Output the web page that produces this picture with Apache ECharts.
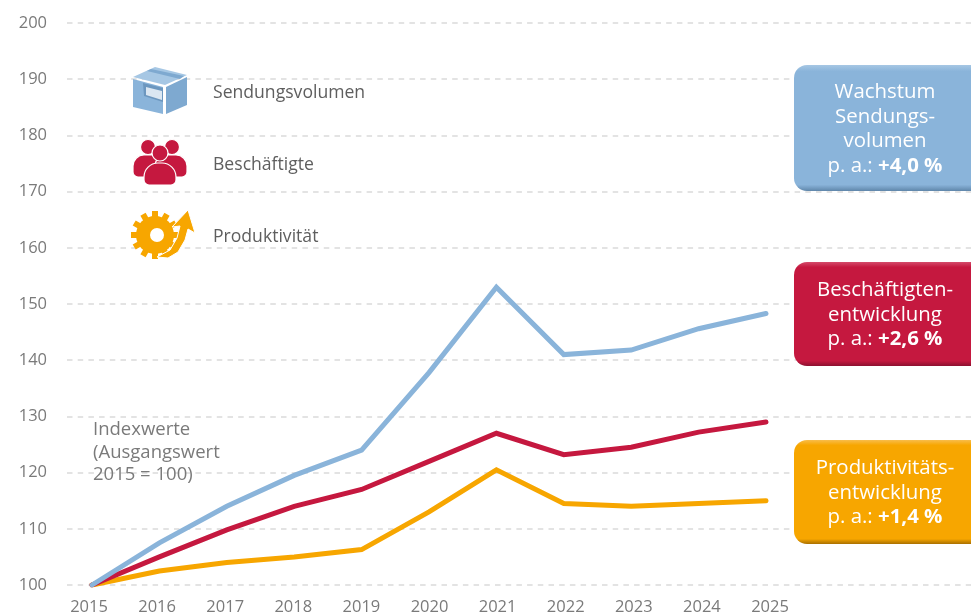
<!DOCTYPE html>
<html>
<head>
<meta charset="utf-8">
<style>
  html, body { margin: 0; padding: 0; background: #fff; overflow: hidden; }
  #chart { width: 971px; height: 616px; }
</style>
<script src="https://cdn.jsdelivr.net/npm/echarts@6/dist/echarts.min.js"></script>
</head>
<body>
<div id="chart"></div>
<script>
const years = ['2015', '2016', '2017', '2018', '2019', '2020', '2021', '2022', '2023', '2024', '2025']
const sendungsvolumen = [100, 107.5, 114, 119.5, 124, 137.8, 153, 141, 141.8, 145.6, 148.3]
const beschaeftigte = [100, 105, 109.8, 114, 117, 122, 127, 123.2, 124.5, 127.2, 129]
const produktivitaet = [100, 102.5, 104, 105, 106.3, 113, 120.5, 114.5, 114, 114.5, 115]

const BLUE = '#8ab4da'
const RED = '#c5183f'
const ORANGE = '#f7a600'
const GREY = '#7a7a7a'
const FONT = '"Open Sans"'

const TOP = 23
const BOTTOM = 616 - 585

const chart = echarts.init(document.getElementById('chart'))

function legendText(text, y) {
  return { type: 'text', x: 213, y, style: { text, fill: '#5e5e5e', font: `17.6px ${FONT}`, verticalAlign: 'middle' } }
}

function growthBox(y, h, color, light, dark, lines, rate) {
  const lineH = 24.5
  const total = lines.length + 1
  const startY = y + 1 + h / 2 - ((total - 1) * lineH) / 2
  const text = (t, i) => ({
    type: 'text',
    x: 885,
    y: startY + i * lineH,
    style: { text: t, fill: '#fff', font: `20.4px ${FONT}`, align: 'center', verticalAlign: 'middle' },
  })
  return [
    {
      type: 'rect',
      shape: { x: 794, y, width: 190, height: h, r: 13 },
      style: {
        fill: new echarts.graphic.LinearGradient(0, 0, 0, 1, [
          { offset: 0, color: light },
          { offset: 0.05, color },
          { offset: 0.95, color },
          { offset: 1, color: dark },
        ]),
      },
    },
    ...lines.map(text),
    {
      type: 'text',
      x: 885,
      y: startY + lines.length * lineH,
      style: {
        text: `{a|p. a.: }{b|${rate}}`,
        align: 'center',
        verticalAlign: 'middle',
        rich: {
          a: { fill: '#fff', font: `20.4px ${FONT}` },
          b: { fill: '#fff', font: `bold 20.4px ${FONT}` },
        },
      },
    },
  ]
}

function boxIcon() {
  return [
    { type: 'polygon', shape: { points: [[133, 77], [155, 67], [187, 75], [165, 85]] }, style: { fill: '#a6c7e4' } },
    { type: 'polygon', shape: { points: [[147, 71], [151, 69], [184, 76], [180, 79]] }, style: { fill: '#7ea9d0' } },
    { type: 'polygon', shape: { points: [[133, 79], [163, 87], [163, 114], [133, 107]] }, style: { fill: BLUE } },
    { type: 'polygon', shape: { points: [[166, 87], [187, 77], [187, 105], [166, 114]] }, style: { fill: '#7ea9d0' } },
    { type: 'polygon', shape: { points: [[143, 83], [163, 88], [163, 102], [144, 96]] }, style: { fill: '#6c97bf' } },
    { type: 'polygon', shape: { points: [[146, 87], [162, 91], [162, 100], [146, 95]] }, style: { fill: '#dbe7f2' } },
  ]
}

function peopleIcon() {
  const person = (cx, cy, r, x, y, w, h, br) => [
    { type: 'circle', shape: { cx, cy, r }, style: { fill: RED, stroke: '#fff', lineWidth: 1.2 } },
    { type: 'rect', shape: { x, y, width: w, height: h, r: [br, br, 5, 5] }, style: { fill: RED, stroke: '#fff', lineWidth: 1.2 } },
  ]
  return [
    ...person(148, 147, 7.5, 133, 155, 32, 22, 11),
    ...person(172, 147, 7.5, 155, 155, 32, 22, 11),
    ...person(160, 153, 8, 144, 163, 32, 22, 14),
  ]
}

function gearIcon() {
  const teeth = []
  for (let i = 0; i < 12; i++) {
    teeth.push({
      type: 'rect',
      x: 155, y: 235, originX: 0, originY: 0,
      rotation: (i * Math.PI) / 6,
      shape: { x: -3, y: -24, width: 6, height: 8 },
      style: { fill: ORANGE },
    })
  }
  return [
    ...teeth,
    { type: 'circle', shape: { cx: 155, cy: 235, r: 19 }, style: { fill: ORANGE } },
    { type: 'circle', shape: { cx: 157, cy: 235, r: 7 }, style: { fill: '#fff' } },
    { type: 'polygon', shape: { points: [[157, 257], [170, 250], [177, 238], [180, 226], [172, 227], [188, 210], [195, 233], [188, 229], [185, 240], [178, 252], [168, 258]] }, style: { fill: ORANGE, stroke: '#fff', lineWidth: 1 } },
  ]
}

function noteText(text, y) {
  return { type: 'text', x: 93, y, style: { text, fill: GREY, font: `18.5px ${FONT}`, verticalAlign: 'middle' } }
}

const lineBase = { type: 'line', symbol: 'none', xAxisIndex: 0, yAxisIndex: 0, lineStyle: { width: 5, join: 'miter', cap: 'round' }, z: 3 }

const overlay = [
  ...boxIcon(),
  ...peopleIcon(),
  ...gearIcon(),
  legendText('Sendungsvolumen', 93),
  legendText('Beschäftigte', 165),
  legendText('Produktivität', 237),
  noteText('Indexwerte', 430),
  noteText('(Ausgangswert', 453),
  noteText('2015 = 100)', 475),
  ...growthBox(65, 126, BLUE, '#a6c7e4', '#5f86aa', ['Wachstum', 'Sendungs-', 'volumen'], '+4,0 %'),
  ...growthBox(262, 104, RED, '#d44a6a', '#8c1030', ['Beschäftigten-', 'entwicklung'], '+2,6 %'),
  ...growthBox(440, 104, ORANGE, '#f9bd4a', '#a97000', ['Produktivitäts-', 'entwicklung'], '+1,4 %'),
].map(el => ({ ...el, z: 10 }))

chart.setOption({
  animation: false,
  backgroundColor: '#fff',
  grid: [
    { left: 92, right: 205, top: TOP, bottom: BOTTOM },
    { left: 67, right: 0, top: TOP, bottom: BOTTOM },
    // year labels sit slightly wider apart than the data points
    { left: 89, right: 201, top: TOP, bottom: BOTTOM },
  ],
  xAxis: [
    { type: 'category', data: years, boundaryGap: false, gridIndex: 0, show: false },
    { type: 'category', data: years, gridIndex: 1, show: false },
    {
      type: 'category',
      data: years,
      boundaryGap: false,
      gridIndex: 2,
      axisLine: { show: false },
      axisTick: { show: false },
      axisLabel: { color: GREY, fontSize: 16.5, fontFamily: 'Open Sans', margin: 14, interval: 0 },
    },
  ],
  yAxis: [
    { type: 'value', min: 100, max: 200, interval: 10, gridIndex: 0, show: false },
    {
      type: 'value',
      min: 100,
      max: 200,
      interval: 10,
      gridIndex: 1,
      axisLine: { show: false },
      axisTick: { show: false },
      axisLabel: { color: GREY, fontSize: 16.5, fontFamily: 'Open Sans', margin: 20 },
      splitLine: { lineStyle: { color: '#e3e3e3', type: [5.5, 5.2], width: 2 } },
    },
    { type: 'value', min: 100, max: 200, gridIndex: 2, show: false },
  ],
  series: [
    { ...lineBase, name: 'Produktivität', data: produktivitaet, color: ORANGE },
    { ...lineBase, name: 'Beschäftigte', data: beschaeftigte, color: RED },
    { ...lineBase, name: 'Sendungsvolumen', data: sendungsvolumen, color: BLUE },
  ],
  graphic: overlay,
})
</script>
</body>
</html>
